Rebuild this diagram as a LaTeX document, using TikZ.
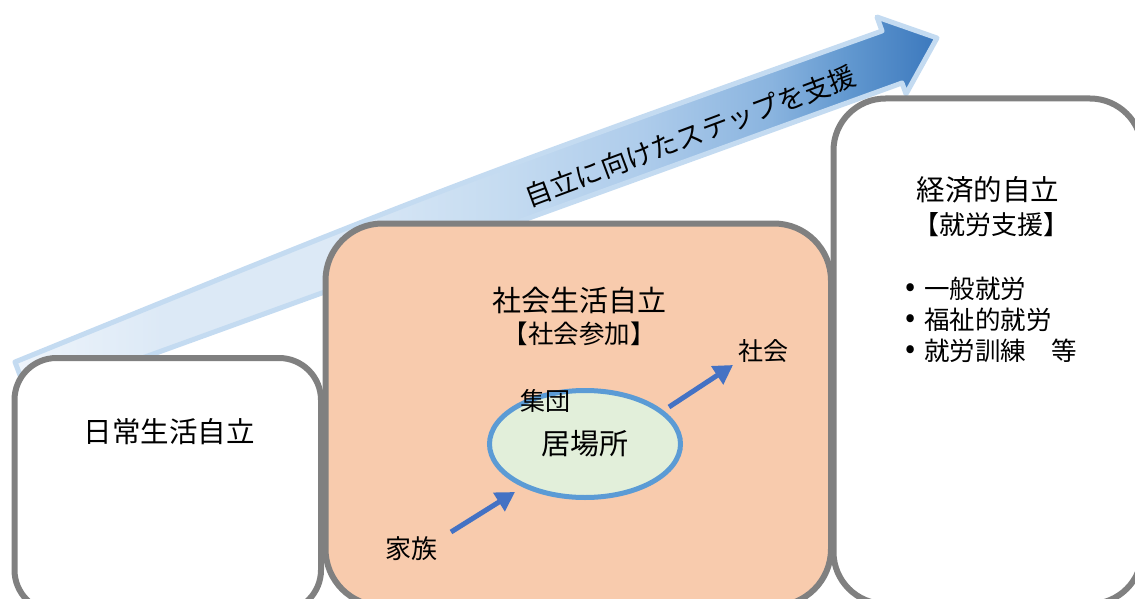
\documentclass[tikz,border=0pt]{standalone}
\usepackage{fontspec}
\setmainfont{Noto Sans CJK JP}
\usetikzlibrary{arrows.meta,shapes.geometric}
\definecolor{sc0}{HTML}{EEF4FB}
\definecolor{sc1}{HTML}{DCE9F6}
\definecolor{sc2}{HTML}{C6DCF1}
\definecolor{sc3}{HTML}{AECCEB}
\definecolor{sc4}{HTML}{8AB4DF}
\definecolor{sc5}{HTML}{6399D0}
\definecolor{sc6}{HTML}{3B78BD}
\definecolor{rimblue}{HTML}{C4DBF1}
\definecolor{boxgray}{HTML}{808080}
\definecolor{peach}{HTML}{F8CBAD}
\definecolor{ovalfill}{HTML}{E2EFDA}
\definecolor{ovalline}{HTML}{5B9BD5}
\definecolor{arrowblue}{HTML}{4472C4}
\pgfdeclarehorizontalshading{stepshade}{100bp}{color(0bp)=(sc0); color(25bp)=(sc0); color(33bp)=(sc1); color(42bp)=(sc1); color(51bp)=(sc2); color(59bp)=(sc3); color(66bp)=(sc4); color(70bp)=(sc5); color(75bp)=(sc6); color(100bp)=(sc6)}
\newcommand\myfs[1]{\fontsize{#1}{#1}\selectfont}
\begin{document}
\begin{tikzpicture}[x=1pt,y=-1pt,
  boxline/.style={draw=boxgray, line width=6pt},
  lbl/.style={inner sep=0pt, text=black},
  smallarrow/.style={draw=arrowblue, line width=5pt, -{Triangle[length=19pt,width=21pt]}},
  stepshape/.style={shading=stepshade, draw=rimblue, line width=5pt, line join=round}]
\useasboundingbox (0,0) rectangle (1135,599);
\clip (0,0) rectangle (1135,599);
% big gradient arrow
\shade[stepshape] (15,362) .. controls (448,186) .. (882,31) -- (877,17) -- (937,38) -- (906,94) -- (902,83) -- (29,399) -- cycle;
\node[lbl, rotate=20.5] (steptext) at (690,136) {\myfs{27}自立に向けたステップを支援};
% boxes
\draw[boxline, fill=white, rounded corners=42pt] (14.5,358) rectangle (321,612);
\draw[boxline, fill=peach, rounded corners=57pt] (325.5,223.5) rectangle (831,606);
\draw[boxline, fill=white, rounded corners=52pt] (833.5,98.5) rectangle (1142,604);
% left box text
\node[lbl] (daily) at (169,432) {\myfs{28.5}日常生活自立};
% middle box texts
\node[lbl] (social) at (579,300) {\myfs{29}社会生活自立};
\node[lbl] (sanka) at (579,334) {\myfs{25.5}【社会参加】};
\node[ellipse, draw=ovalline, line width=5pt, fill=ovalfill, minimum width=191pt, minimum height=107pt, inner sep=0pt] (ibasho) at (585,444) {\myfs{29}居場所};
\node[lbl] (shudan) at (545,401) {\myfs{25}集団};
\node[lbl] (kazoku) at (411,549) {\myfs{26}家族};
\node[lbl] (shakai) at (763,351) {\myfs{25}社会};
\coordinate (a1s) at (451,532);
\coordinate (a1e) at (515,492);
\coordinate (a2s) at (669,407);
\coordinate (a2e) at (733,365);
\draw[smallarrow] (a1s) -- (a1e);
\draw[smallarrow] (a2s) -- (a2e);
% right box texts
\node[lbl] (keizai) at (988,190) {\myfs{28.5}経済的自立};
\node[lbl] (shuro) at (991,225) {\myfs{26}【就労支援】};
\node[lbl] (b1) at (911,290) {\myfs{30}•};
\node[lbl] (b2) at (911,321) {\myfs{30}•};
\node[lbl] (b3) at (911,352) {\myfs{30}•};
\node[lbl, anchor=west] (t1) at (924,289) {\myfs{25.5}一般就労};
\node[lbl, anchor=west] (t2) at (924,320) {\myfs{25.5}福祉的就労};
\node[lbl, anchor=west] (t3) at (924,351) {\myfs{25.5}就労訓練　等};
\end{tikzpicture}
\end{document}
